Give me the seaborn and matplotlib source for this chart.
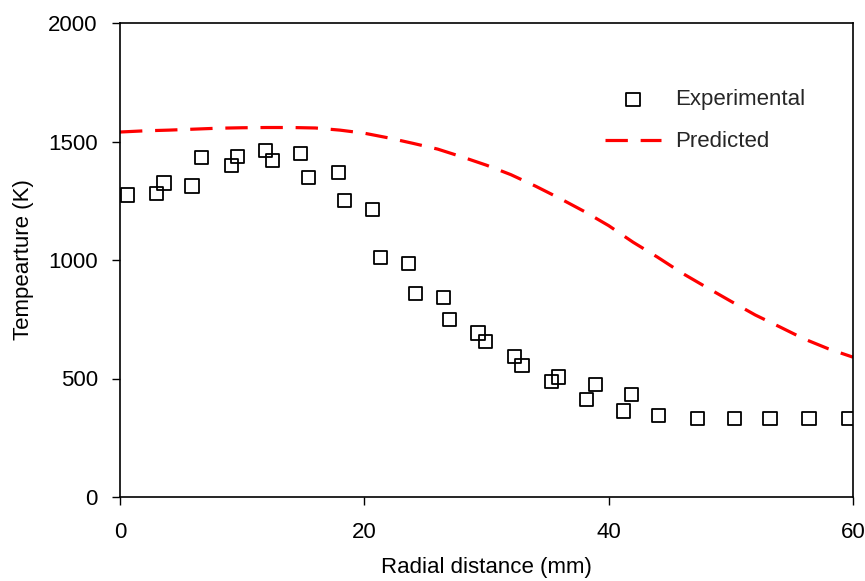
import matplotlib
matplotlib.use("Agg")
import matplotlib.pyplot as plt
import seaborn as sns
import pandas as pd

# Experimental data (radial distance mm, temperature K)
exp_x = [0.6, 3.0, 3.6, 5.9, 6.7, 9.1, 9.6, 11.9, 12.5, 14.8, 15.4, 17.9, 18.4,
         20.7, 21.3, 23.6, 24.2, 26.5, 27.0, 29.3, 29.9, 32.3, 32.9, 35.3, 35.9,
         38.2, 38.9, 41.2, 41.9, 44.1, 47.3, 50.3, 53.2, 56.4, 59.6]
exp_y = [1274, 1282, 1325, 1312, 1431, 1400, 1438, 1461, 1419, 1450, 1349, 1369, 1250,
         1214, 1009, 985, 860, 841, 749, 692, 655, 592, 556, 487, 506,
         412, 476, 363, 432, 345, 332, 332, 332, 332, 332]

# Predicted profile
pred_x = [0, 2, 4, 6, 8, 10, 12, 14, 16, 18, 20, 22, 24, 26, 28, 30, 32, 34, 36, 38,
          40, 42, 44, 46, 48, 50, 52, 54, 56, 58, 60]
pred_y = [1540, 1545, 1548, 1552, 1556, 1558, 1559, 1559, 1557, 1548, 1535, 1515, 1492,
          1468, 1435, 1400, 1360, 1312, 1260, 1205, 1145, 1075, 1012, 945, 885, 826,
          768, 718, 667, 625, 590]

x_ticks = [0, 20, 40, 60]
y_ticks = [0, 500, 1000, 1500, 2000]

sns.set_theme(style="white")
plt.rcParams['font.family'] = ['Liberation Sans', 'DejaVu Sans']

FS = 16

fig = plt.figure(figsize=(8.65, 5.81), dpi=100)
ax = fig.add_axes([120/865, 1-497/581, (853-120)/865, (497-23)/581])

df_exp = pd.DataFrame({"x": exp_x, "y": exp_y})
df_pred = pd.DataFrame({"x": pred_x, "y": pred_y})

sns.scatterplot(data=df_exp, x="x", y="y", ax=ax, marker="s", s=90,
                facecolor="none", edgecolor="black", linewidth=1.3,
                label="Experimental", zorder=3)
sns.lineplot(data=df_pred, x="x", y="y", ax=ax, color="#ff0000", linewidth=2.3,
             dashes=False, label="Predicted", zorder=2)
line = ax.get_lines()[-1]
line.set_dashes((7, 4))

ax.set_xlim(0, 60)
ax.set_ylim(0, 2000)
ax.set_xticks(x_ticks)
ax.set_yticks(y_ticks)
ax.tick_params(axis="both", which="both", direction="out", length=6, width=1,
               color="black", labelsize=FS, labelcolor="black",
               bottom=True, left=True)
ax.tick_params(axis="x", pad=12)
ax.tick_params(axis="y", pad=10)
for s in ax.spines.values():
    s.set_visible(True)
    s.set_color("black")
    s.set_linewidth(1.2)

ax.set_xlabel("Radial distance (mm)", fontsize=FS, color="black", labelpad=10)
ax.set_ylabel("Tempearture (K)", fontsize=FS, color="black", labelpad=10)

leg = ax.legend(loc="upper left", bbox_to_anchor=(0.662, 0.86), frameon=False,
                fontsize=FS, handlelength=2.5, handletextpad=0.63,
                labelspacing=0.95, borderaxespad=0, borderpad=0)

fig.savefig("out.png", dpi=100)
